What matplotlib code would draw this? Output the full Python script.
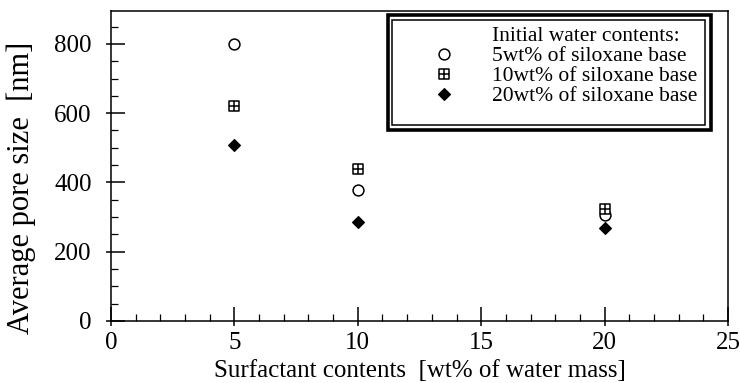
import matplotlib
matplotlib.use("Agg")
import matplotlib.pyplot as plt
from matplotlib.path import Path
from matplotlib.lines import Line2D
from matplotlib.patches import Rectangle

# Surfactant contents [wt% of water mass]
surfactant = [5, 10, 20]
# Average pore size [nm] for each initial water content
pore_5wt = [800, 378, 306]
pore_10wt = [620, 440, 324]
pore_20wt = [508, 285, 268]

series_labels = ["5wt% of siloxane base",
                 "10wt% of siloxane base",
                 "20wt% of siloxane base"]
legend_title = "Initial water contents:"
x_label = "Surfactant contents  [wt% of water mass]"
y_label = "Average pore size  [nm]"
x_ticks = [0, 5, 10, 15, 20, 25]
y_ticks = [0, 200, 400, 600, 800]

plt.rcParams["font.family"] = ["Liberation Serif", "DejaVu Serif"]

# square with an inner cross
sq_verts = [(-1, -1), (1, -1), (1, 1), (-1, 1), (-1, -1),
            (0, -1), (0, 1), (-1, 0), (1, 0)]
sq_codes = [Path.MOVETO, Path.LINETO, Path.LINETO, Path.LINETO, Path.CLOSEPOLY,
            Path.MOVETO, Path.LINETO, Path.MOVETO, Path.LINETO]
squared_plus = Path(sq_verts, sq_codes)

fig = plt.figure(figsize=(7.4, 3.83), dpi=100)
ax = fig.add_axes([0.15, 0.1619, 0.8338, 0.8094])

ax.plot(surfactant, pore_5wt, linestyle="none", marker="o", markersize=7.8,
        markerfacecolor="white", markeredgecolor="black", markeredgewidth=1.1,
        label=series_labels[0], zorder=3)
ax.plot(surfactant, pore_10wt, linestyle="none", marker=squared_plus, markersize=6.6,
        markerfacecolor="white", markeredgecolor="black", markeredgewidth=1.1,
        label=series_labels[1], zorder=4)
ax.plot(surfactant, pore_20wt, linestyle="none", marker="D", markersize=6.3,
        markerfacecolor="black", markeredgecolor="black", markeredgewidth=0.8,
        label=series_labels[2], zorder=5)

ax.set_xlim(0, 25)
ax.set_ylim(0, 895)
ax.set_xticks(x_ticks)
ax.set_yticks(y_ticks)
ax.set_xticks(range(0, 26), minor=True)
ax.set_yticks(range(0, 900, 50), minor=True)

for s in ax.spines.values():
    s.set_linewidth(1.1)

ax.tick_params(which="major", direction="in", length=10, width=1.1,
               labelsize=18, top=False, right=False)
ax.tick_params(axis="y", which="major", pad=14)
ax.tick_params(axis="x", which="major", pad=8)
ax.tick_params(which="minor", direction="in", length=5, width=0.9,
               top=False, right=False)

# short outward stubs of the major ticks
sx = ax.secondary_xaxis("bottom")
sx.set_xticks(x_ticks)
sx.tick_params(direction="out", length=3.5, width=1.1, labelbottom=False)
sx.spines["bottom"].set_visible(False)
sy = ax.secondary_yaxis("left")
sy.set_yticks(y_ticks)
sy.tick_params(direction="out", length=3.5, width=1.1, labelleft=False)
sy.spines["left"].set_visible(False)

ax.set_xlabel(x_label, fontsize=18, labelpad=4)
fig.text(21 / 740, 1 - 188 / 383, y_label, rotation=90, fontsize=22,
         ha="center", va="center")

# legend with a double frame
title_handle = Line2D([], [], linestyle="none", marker=None)
handles, labels = ax.get_legend_handles_labels()
leg = ax.legend([title_handle] + handles, [legend_title] + labels,
                loc="upper left", bbox_to_anchor=(0.519, 0.951),
                frameon=False, fontsize=15.5, handlelength=1.2,
                handletextpad=1.6, labelspacing=0.0, borderpad=0.0,
                borderaxespad=0.0)

ax.add_patch(Rectangle((0.449, 0.616), 0.523, 0.371, transform=ax.transAxes,
                       fill=False, edgecolor="black", linewidth=2.6, zorder=6))
ax.add_patch(Rectangle((0.455, 0.632), 0.507, 0.339, transform=ax.transAxes,
                       fill=False, edgecolor="black", linewidth=1.1, zorder=6))

fig.savefig("out.png", dpi=100)
